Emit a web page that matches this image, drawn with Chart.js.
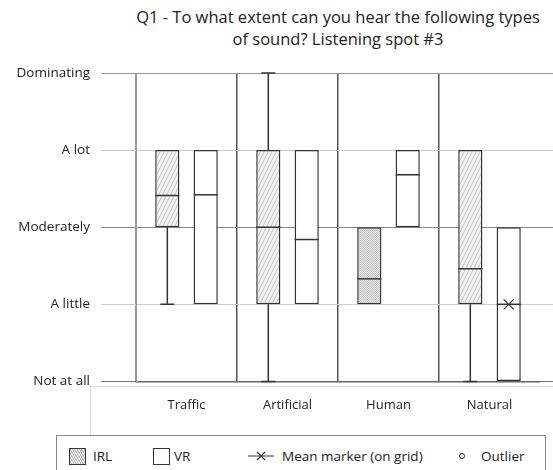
<!DOCTYPE html>
<html>
<head>
<meta charset="utf-8">
<script src="https://cdn.jsdelivr.net/npm/chart.js@4"></script>
<style>
  body { margin: 0; background: #fff; font-family: 'Open Sans', sans-serif; color: #222; }
  #wrap { position: relative; width: 553px; height: 470px; overflow: hidden; }
  #chart-box { position: absolute; left: 0; top: 0; width: 553px; height: 433px; }
  .title { position: absolute; left: 118px; width: 440px; text-align: center; font-size: 16.5px; line-height: 22px; top: 6px; }
  #frame { position: absolute; left: 90px; top: 386px; width: 470px; height: 48px; border-top: 1px solid #ddd; border-left: 1px solid #ddd; }
  #legend { position: absolute; left: 56px; top: 435px; width: 488px; height: 45px; border: 1px solid #888; font-size: 13.5px; }
  #legend .item { position: absolute; top: 11px; line-height: 18px; }
  .patch { position: absolute; width: 15px; height: 15px; border: 1px solid #333; top: 12px; }
</style>
</head>
<body>
<div id="wrap">
  <div class="title">Q1 - To what extent can you hear the following types<br>of sound? Listening spot #3</div>
  <div id="frame"></div>
  <div id="chart-box"><canvas id="chart"></canvas></div>
  <div id="legend">
    <div class="patch" style="left: 12px; background: repeating-linear-gradient(60deg, #eee 0 1px, #bbb 1px 2px);"></div>
    <div class="item" style="left: 36px;">IRL</div>
    <div class="patch" style="left: 96px; background: #fff;"></div>
    <div class="item" style="left: 117px;">VR</div>
    <svg style="position: absolute; left: 190px; top: 12px;" width="28" height="16">
      <line x1="1" y1="8" x2="27" y2="8" stroke="#333" stroke-width="1"/>
      <line x1="10" y1="4" x2="18" y2="12" stroke="#333" stroke-width="1.2"/>
      <line x1="18" y1="4" x2="10" y2="12" stroke="#333" stroke-width="1.2"/>
    </svg>
    <div class="item" style="left: 225px;">Mean marker (on grid)</div>
    <svg style="position: absolute; left: 400px; top: 15px;" width="10" height="10">
      <circle cx="5" cy="5" r="2.5" fill="none" stroke="#333" stroke-width="1"/>
    </svg>
    <div class="item" style="left: 424px;">Outlier</div>
  </div>
</div>
<script>
const categories = ['Traffic', 'Artificial', 'Human', 'Natural'];
const levelLabels = ['Not at all', 'A little', 'Moderately', 'A lot', 'Dominating'];

// box plot values, 0 = Not at all ... 4 = Dominating
const irlMin    = [1, 0, 1, 0];
const irlQ1     = [2, 1, 1, 1];
const irlMedian = [2.41, 2, 1.33, 1.46];
const irlQ3     = [3, 3, 2, 3];
const irlMax    = [3, 4, 2, 3];

const vrMin    = [1, 1, 2, 0];
const vrQ1     = [1, 1, 2, 0];
const vrMedian = [2.42, 1.84, 2.68, 1];
const vrQ3     = [3, 3, 3, 2];
const vrMax    = [3, 3, 3, 2];
const vrMean   = [null, null, null, 1];

function makeHatch() {
    const c = document.createElement('canvas');
    c.width = 4; c.height = 8;
    const g = c.getContext('2d');
    g.fillStyle = '#f4f4f4';
    g.fillRect(0, 0, 4, 8);
    g.strokeStyle = '#aaa';
    g.lineWidth = 0.7;
    for (let k = -1; k <= 1; k++) {
        g.beginPath();
        g.moveTo(k * 4, 8);
        g.lineTo(k * 4 + 4, 0);
        g.stroke();
    }
    return g.createPattern(c, 'repeat');
}

function makeDots() {
    const c = document.createElement('canvas');
    c.width = 2; c.height = 2;
    const g = c.getContext('2d');
    g.fillStyle = '#e6e6e6';
    g.fillRect(0, 0, 2, 2);
    g.fillStyle = '#c4c4c4';
    g.fillRect(0, 0, 1, 1);
    g.fillRect(1, 1, 1, 1);
    return g.createPattern(c, 'repeat');
}

const hatch = makeHatch();
const dots = makeDots();

const boxStats = [
    { min: irlMin, med: irlMedian, q1: irlQ1, q3: irlQ3, max: irlMax, mean: null },
    { min: vrMin, med: vrMedian, q1: vrQ1, q3: vrQ3, max: vrMax, mean: vrMean }
];

// whiskers, medians and mean markers on top of the floating bars
const boxPlugin = {
    id: 'boxExtras',
    afterDatasetsDraw(chart) {
        const ctx = chart.ctx;
        const y = chart.scales.y;
        ctx.save();
        ctx.strokeStyle = '#333';
        ctx.lineWidth = 1.5;
        boxStats.forEach((s, d) => {
            const meta = chart.getDatasetMeta(d);
            meta.data.forEach((bar, i) => {
                const x = bar.x;
                const half = bar.width / 2;
                const cap = 7;
                ctx.beginPath();
                if (s.min[i] < s.q1[i]) {
                    ctx.moveTo(x, y.getPixelForValue(s.q1[i]));
                    ctx.lineTo(x, y.getPixelForValue(s.min[i]));
                    ctx.moveTo(x - cap, y.getPixelForValue(s.min[i]));
                    ctx.lineTo(x + cap, y.getPixelForValue(s.min[i]));
                }
                if (s.max[i] > s.q3[i]) {
                    ctx.moveTo(x, y.getPixelForValue(s.q3[i]));
                    ctx.lineTo(x, y.getPixelForValue(s.max[i]));
                    ctx.moveTo(x - cap, y.getPixelForValue(s.max[i]));
                    ctx.lineTo(x + cap, y.getPixelForValue(s.max[i]));
                }
                const my = y.getPixelForValue(s.med[i]);
                ctx.moveTo(x - half, my);
                ctx.lineTo(x + half, my);
                ctx.stroke();
                if (s.mean && s.mean[i] != null) {
                    const py = y.getPixelForValue(s.mean[i]);
                    ctx.beginPath();
                    ctx.lineWidth = 1.2;
                    ctx.moveTo(x - 5, py - 5);
                    ctx.lineTo(x + 5, py + 5);
                    ctx.moveTo(x + 5, py - 5);
                    ctx.lineTo(x - 5, py + 5);
                    ctx.stroke();
                    ctx.lineWidth = 1.5;
                }
            });
        });
        ctx.restore();
    }
};

// horizontal grid lines run on to the right edge of the picture
const gridExtend = {
    id: 'gridExtend',
    beforeDatasetsDraw(chart) {
        const ctx = chart.ctx;
        const y = chart.scales.y;
        const area = chart.chartArea;
        ctx.save();
        ctx.lineWidth = 1;
        y.ticks.forEach((t, i) => {
            const py = Math.round(y.getPixelForValue(t.value)) + 0.5;
            ctx.strokeStyle = i === 0 ? '#777' : (i === 2 ? '#888' : (i === 4 ? '#999' : '#ccc'));
            ctx.beginPath();
            ctx.moveTo(area.right, py);
            ctx.lineTo(chart.width, py);
            ctx.stroke();
        });
        ctx.restore();
    }
};

new Chart(document.getElementById('chart'), {
    type: 'bar',
    data: {
        labels: categories,
        datasets: [
            {
                label: 'IRL',
                data: irlQ1.map((v, i) => [v, irlQ3[i]]),
                backgroundColor: [hatch, hatch, dots, hatch],
                borderColor: '#333',
                borderWidth: 1.5,
                borderSkipped: false
            },
            {
                label: 'VR',
                data: vrQ1.map((v, i) => [v, vrQ3[i]]),
                backgroundColor: '#fff',
                borderColor: '#333',
                borderWidth: 1.5,
                borderSkipped: false
            }
        ]
    },
    options: {
        responsive: true,
        maintainAspectRatio: false,
        animation: false,
        categoryPercentage: 0.76,
        barPercentage: 0.63,
        layout: { padding: { top: 73, right: 13, bottom: 4, left: 0 } },
        plugins: {
            legend: { display: false },
            tooltip: { enabled: false }
        },
        scales: {
            x: {
                grid: {
                    offset: true,
                    drawTicks: false,
                    lineWidth: 1.5,
                    color: c => c.type !== 'tick' ? 'rgba(0,0,0,0)' : (c.index === 0 ? '#999' : '#555')
                },
                border: { color: '#666', width: 1.5 },
                ticks: { color: '#222', padding: 16, font: { family: 'Open Sans', size: 13 } }
            },
            y: {
                min: 0,
                max: 4,
                afterFit(scale) { scale.width = 136; },
                grid: {
                    tickLength: 35,
                    lineWidth: 1,
                    color: c => ['#777', '#ccc', '#888', '#ccc', '#999'][c.index] || '#ccc'
                },
                border: { color: '#999', width: 1 },
                ticks: {
                    stepSize: 1,
                    padding: 11,
                    color: '#222',
                    font: { family: 'Open Sans', size: 13.5 },
                    callback: v => levelLabels[v]
                }
            }
        }
    },
    plugins: [gridExtend, boxPlugin]
});
</script>
</body>
</html>
